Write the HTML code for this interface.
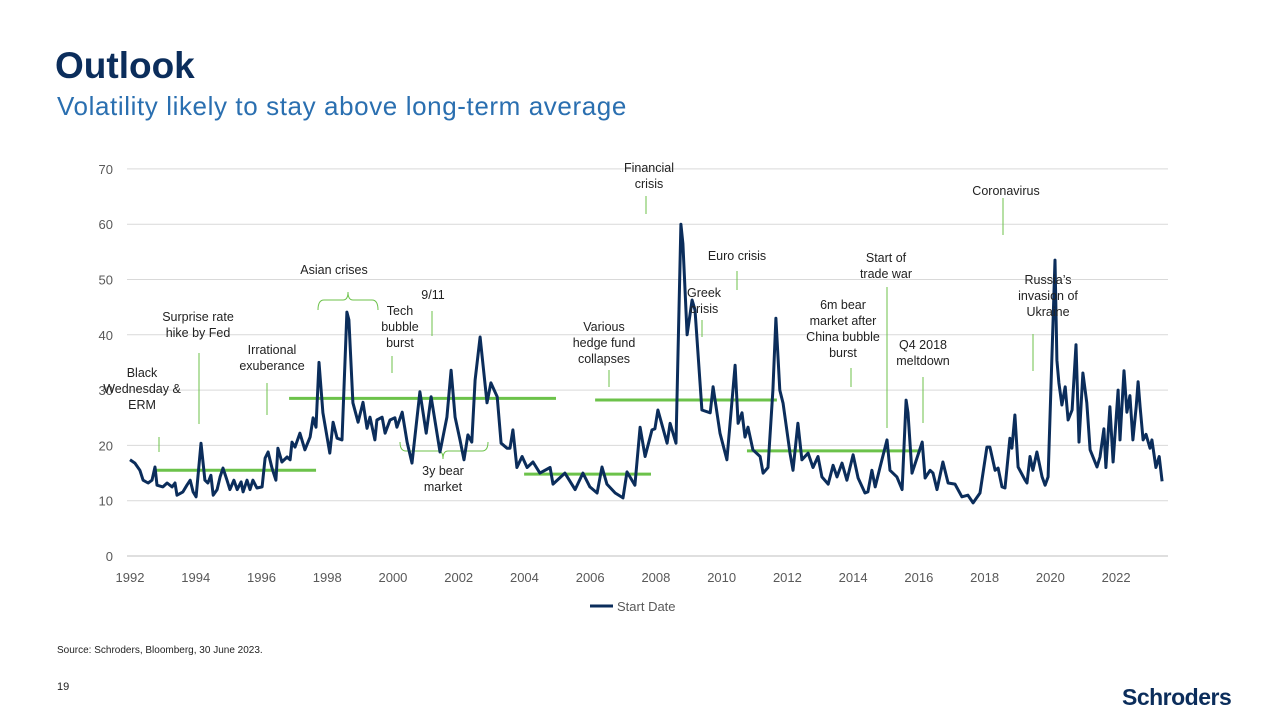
<!DOCTYPE html>
<html><head><meta charset="utf-8">
<style>
body{margin:0;width:1280px;height:720px;background:#fff;font-family:"Liberation Sans",sans-serif;overflow:hidden;position:relative}
.ann{position:absolute;font-size:12.5px;color:#222;text-align:center;line-height:16px;white-space:nowrap;transform:translateX(-50%)}
</style></head><body>
<div style="position:absolute;left:55px;top:45px;font-size:37px;font-weight:bold;color:#0b2d5b">Outlook</div>
<div style="position:absolute;left:57px;top:91px;font-size:26px;letter-spacing:0.6px;color:#2a6fb0">Volatility likely to stay above long-term average</div>
<svg id="chart" width="1280" height="720" style="position:absolute;left:0;top:0"></svg>
<div class="ann" style="left:142px;top:365px">Black<br>Wednesday &amp;<br>ERM</div>
<div class="ann" style="left:198px;top:309px">Surprise rate<br>hike by Fed</div>
<div class="ann" style="left:272px;top:342px">Irrational<br>exuberance</div>
<div class="ann" style="left:334px;top:262px">Asian crises</div>
<div class="ann" style="left:433px;top:287px">9/11</div>
<div class="ann" style="left:400px;top:303px">Tech<br>bubble<br>burst</div>
<div class="ann" style="left:443px;top:463px">3y bear<br>market</div>
<div class="ann" style="left:604px;top:319px">Various<br>hedge fund<br>collapses</div>
<div class="ann" style="left:649px;top:160px">Financial<br>crisis</div>
<div class="ann" style="left:737px;top:248px">Euro crisis</div>
<div class="ann" style="left:704px;top:285px">Greek<br>crisis</div>
<div class="ann" style="left:843px;top:297px">6m bear<br>market after<br>China bubble<br>burst</div>
<div class="ann" style="left:886px;top:250px">Start of<br>trade war</div>
<div class="ann" style="left:923px;top:337px">Q4 2018<br>meltdown</div>
<div class="ann" style="left:1006px;top:183px">Coronavirus</div>
<div class="ann" style="left:1048px;top:272px">Russia’s<br>invasion of<br>Ukraine</div>
<div style="position:absolute;left:57px;top:645px;font-size:10px;color:#222">Source: Schroders, Bloomberg, 30 June 2023.</div>
<div style="position:absolute;left:57px;top:681px;font-size:11px;color:#222">19</div>
<div style="position:absolute;left:1122px;top:684px;font-size:23px;font-weight:bold;color:#0b2d5b;letter-spacing:-0.5px">Schroders</div>
<script>
const dates=[1992.0,1992.15,1992.3,1992.4,1992.55,1992.67,1992.76,1992.82,1993.0,1993.13,1993.28,1993.37,1993.43,1993.61,1993.73,1993.83,1993.92,1994.01,1994.16,1994.28,1994.37,1994.46,1994.53,1994.65,1994.74,1994.83,1994.95,1995.04,1995.16,1995.26,1995.38,1995.44,1995.56,1995.65,1995.74,1995.86,1996.02,1996.11,1996.2,1996.32,1996.44,1996.5,1996.62,1996.78,1996.87,1996.93,1997.02,1997.17,1997.32,1997.48,1997.57,1997.66,1997.75,1997.87,1998.08,1998.18,1998.3,1998.45,1998.6,1998.66,1998.78,1998.94,1999.09,1999.21,1999.3,1999.45,1999.51,1999.67,1999.76,1999.91,2000.06,2000.12,2000.28,2000.43,2000.58,2000.82,2001.01,2001.16,2001.43,2001.64,2001.77,2001.89,2002.04,2002.16,2002.28,2002.4,2002.5,2002.65,2002.86,2002.98,2003.17,2003.29,2003.47,2003.56,2003.65,2003.77,2003.93,2004.08,2004.26,2004.47,2004.78,2004.87,2005.23,2005.54,2005.78,2005.99,2006.21,2006.36,2006.51,2006.76,2007.0,2007.12,2007.36,2007.52,2007.67,2007.88,2007.97,2008.06,2008.34,2008.43,2008.61,2008.76,2008.82,2008.95,2009.1,2009.19,2009.4,2009.65,2009.74,2009.95,2010.16,2010.41,2010.5,2010.62,2010.71,2010.8,2010.95,2011.17,2011.26,2011.41,2011.56,2011.65,2011.77,2011.87,2012.08,2012.17,2012.32,2012.44,2012.63,2012.78,2012.93,2013.05,2013.24,2013.39,2013.51,2013.66,2013.81,2014.0,2014.15,2014.36,2014.45,2014.57,2014.67,2014.82,2015.03,2015.12,2015.33,2015.49,2015.61,2015.67,2015.79,2016.1,2016.19,2016.34,2016.43,2016.55,2016.73,2016.89,2017.1,2017.31,2017.49,2017.65,2017.86,2018.07,2018.16,2018.32,2018.41,2018.53,2018.62,2018.77,2018.83,2018.92,2019.02,2019.23,2019.29,2019.38,2019.47,2019.59,2019.75,2019.84,2019.93,2020.14,2020.2,2020.26,2020.35,2020.45,2020.54,2020.66,2020.78,2020.87,2020.99,2021.11,2021.21,2021.42,2021.51,2021.63,2021.69,2021.81,2021.91,2022.06,2022.12,2022.24,2022.33,2022.42,2022.51,2022.61,2022.67,2022.73,2022.82,2022.91,2023.03,2023.09,2023.21,2023.31,2023.4];
const vix=[17.4,16.8,15.5,13.7,13.2,13.7,16.1,12.8,12.5,13.2,12.5,13.2,11,11.6,12.8,13.7,11.6,10.7,20.4,13.7,13.2,14.6,11,12,14.3,15.9,13.7,12,13.7,12,13.4,11.6,13.7,12,13.7,12.3,12.5,17.7,18.8,15.9,13.7,19.5,17,17.9,17.4,20.6,19.7,22.2,19.2,21.5,25,23.3,35,25.9,18.6,24.2,21.3,21,44.1,42.7,27.7,24.2,27.8,23.1,25.1,21,24.6,25.1,22.2,24.6,25,23.3,26,20.6,16.8,29.7,22.2,28.8,18.8,25.1,33.6,25.1,21,17.4,21.9,20.6,31.8,39.6,27.7,31.3,28.8,20.4,19.5,19.5,22.8,16,18,16,17,15,16,13,15,12,15,12.5,11.4,16.1,13,11.4,10.5,15.2,12.8,23.3,18,22.8,23,26.4,20.4,24,20.4,60,56.5,40,46.3,44.5,26.4,25.9,30.6,22.2,17.4,34.5,24,25.9,21.5,23.3,19.2,18,15,16,30,43,30,27.6,18.6,15.5,24,17.4,18.6,16,18,14.3,13,16.4,14.3,16.8,13.7,18.3,14.1,11.4,11.6,15.5,12.5,16.1,21,15.5,14.3,12,28.2,25.9,15,20.6,14.1,15.5,15,12,17,13.2,13,10.7,11,9.6,11.4,19.7,19.7,15.5,15.9,12.5,12.3,21.3,19.5,25.5,16.1,13.7,13.2,18,15.5,18.8,14.3,12.8,14.3,53.5,35.4,31.3,27.3,30.6,24.6,26.4,38.2,20.6,33.1,27.7,19.2,16.1,17.9,23,16,27,17,30,21,33.5,26,29,21,27,31.5,27,21,22,19.5,21,16,18,13.5];
const avgStart=[1992.7,1996.84,2003.99,2006.15,2010.77];
const avgEnd=[1997.66,2004.96,2007.85,2011.68,2016.06];
const avgValue=[15.5,28.5,14.8,28.2,19];
const yTicks=[0,10,20,30,40,50,60,70];
const xTicks=[1992,1994,1996,1998,2000,2002,2004,2006,2008,2010,2012,2014,2016,2018,2020,2022];

const X=y=>130+(y-1992)*32.87;
const Y=v=>556-v*5.53;
const svg=document.getElementById('chart');
const NS='http://www.w3.org/2000/svg';
function mk(tag,attrs,parent){const e=document.createElementNS(NS,tag);for(const k in attrs)e.setAttribute(k,attrs[k]);(parent||svg).appendChild(e);return e;}
yTicks.forEach(t=>{
  const g=mk('line',{x1:127,x2:1168,y1:Y(t),y2:Y(t),stroke:t===0?'#bfbfbf':'#d9d9d9','stroke-width':1});
  
  
  const l=mk('text',{x:113,y:Y(t)+5,'text-anchor':'end','font-size':13,fill:'#595959','font-family':'Liberation Sans, sans-serif'});
  l.textContent=t;
  
  
});
xTicks.forEach(t=>{
  const l=mk('text',{x:X(t),y:582,'text-anchor':'middle','font-size':13,fill:'#595959','font-family':'Liberation Sans, sans-serif'});
  l.textContent=t;
  
  
});
avgStart.forEach((s,i)=>{
  const a=mk('line',{x1:X(s),x2:X(avgEnd[i]),y1:Y(avgValue[i]),y2:Y(avgValue[i]),stroke:'#6cc24a','stroke-width':3});
  
  
});
const ticks=[[159,437,452],[199,353,424],[267,383,415],[432,311,336],[392,356,373],[609,370,387],[646,196,214],[737,271,290],[702,320,337],[851,368,387],[887,287,428],[923,377,423],[1003,198,235],[1033,334,371]];
ticks.forEach(t=>{
  const l=mk('line',{x1:t[0],x2:t[0],y1:t[1],y2:t[2],stroke:'#6cc24a','stroke-width':1});
  
  
});
const b1=mk('path',{d:'M318,310 Q318,300 324,300 L343,300 Q348,300 348,292 Q348,300 353,300 L372,300 Q378,300 378,310',fill:'none',stroke:'#6cc24a','stroke-width':1});


const b2=mk('path',{d:'M400,442 Q400,451 406,451 L438,451 Q443,451 443,459 Q443,451 448,451 L482,451 Q488,451 488,442',fill:'none',stroke:'#6cc24a','stroke-width':1});


const pts=dates.map((d,i)=>X(d).toFixed(1)+','+Y(vix[i]).toFixed(1)).join(' ');
const ln=mk('polyline',{points:pts,fill:'none',stroke:'#0b2d5b','stroke-width':3,'stroke-linejoin':'round'});


const lg=mk('line',{x1:590,x2:613,y1:606,y2:606,stroke:'#0b2d5b','stroke-width':3});


const lt=mk('text',{x:617,y:611,'font-size':13,fill:'#595959','font-family':'Liberation Sans, sans-serif'});
lt.textContent='Start Date';


</script>
</body></html>
